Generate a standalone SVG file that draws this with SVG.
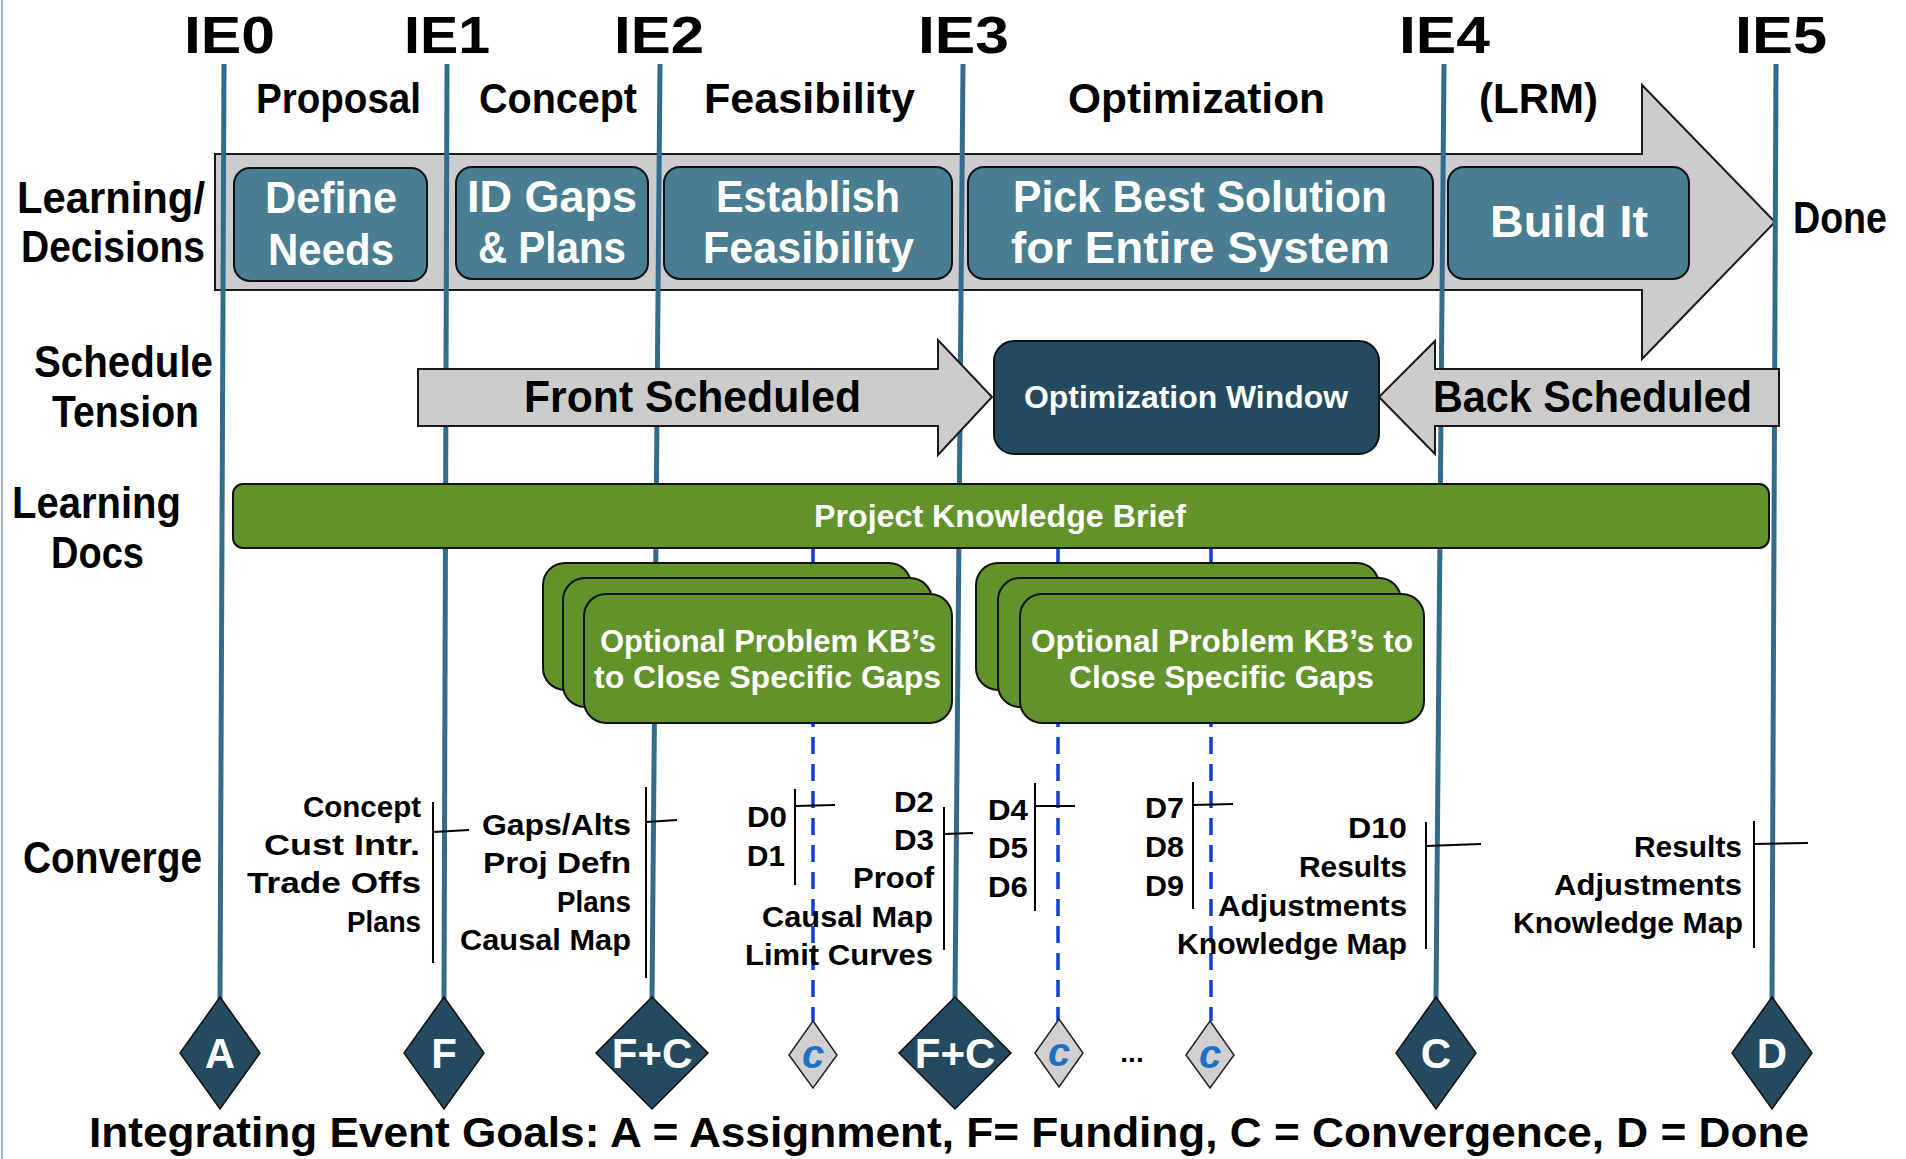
<svg xmlns="http://www.w3.org/2000/svg" width="1906" height="1159" viewBox="0 0 1906 1159">
  <style>
    .t { font-family: "Liberation Sans", "DejaVu Sans", sans-serif; font-weight: bold; }
    .blk { fill: #000; }
    .wht { fill: #fff; }
    .ie { font-size: 52px; }
    .phase { font-size: 43px; }
    .row { font-size: 45px; }
    .box { font-size: 44px; }
    .mid { font-size: 31px; }
    .kb { font-size: 32px; }
    .cv { font-size: 29px; }
    .dia { font-size: 42px; text-anchor: middle; }
    .sm { font-size: 40px; text-anchor: middle; fill: #1f6fc5; font-style: italic; }
    .cap { font-size: 42px; }
    .ieline { stroke: #336b8c; stroke-width: 5; fill: none; }
    .dash { stroke: #1040d8; stroke-width: 3.5; stroke-dasharray: 17 10; fill: none; }
    .teal { fill: #497d91; stroke: #111; stroke-width: 2; }
    .navy { fill: #234a5f; stroke: #111; stroke-width: 2; }
    .gray { fill: #cccccc; stroke: #1a1a1a; stroke-width: 2; }
    .green { fill: #62932a; stroke: #111; stroke-width: 2; }
    .brk { stroke: #000; stroke-width: 2; fill: none; }
    .bigd { fill: #234a5f; stroke: #111; stroke-width: 1.5; }
    .smd { fill: #d0d0d0; stroke: #222; stroke-width: 1.5; }
  </style>

  <rect x="0" y="0" width="1906" height="1159" fill="#fff"/>
  <line x1="2" y1="0" x2="2" y2="1159" stroke="#9db4cc" stroke-width="2"/>

  <!-- main phase arrow -->
  <g id="phase-arrow">
    <polygon class="gray" points="215,154 1642,154 1642,85 1775,222 1642,359 1642,290 215,290"/>
  </g>

  <!-- timeline connectors: integrating-event lines, convergence dashes, brackets -->
  <g id="connectors">
    <line class="ieline" x1="224" y1="64" x2="220" y2="1000"/>
    <line class="ieline" x1="447" y1="64" x2="444" y2="1000"/>
    <line class="ieline" x1="660" y1="64" x2="652" y2="1000"/>
    <line class="ieline" x1="963" y1="64" x2="955" y2="1000"/>
    <line class="ieline" x1="1444" y1="64" x2="1436" y2="1000"/>
    <line class="ieline" x1="1776" y1="64" x2="1772" y2="1000"/>

    <line class="dash" x1="813" y1="548" x2="813" y2="1021"/>
    <line class="dash" x1="1058" y1="548" x2="1058" y2="1021"/>
    <line class="dash" x1="1211" y1="548" x2="1211" y2="1021"/>

    <path class="brk" d="M433,802 V963 M433,832 L469,830"/>
    <path class="brk" d="M646,787 V978 M646,822 L677,820"/>
    <path class="brk" d="M795,789 V885 M795,806 L835,805"/>
    <path class="brk" d="M944,807 V950 M944,834 L973,833"/>
    <path class="brk" d="M1035,783 V911 M1035,806 L1075,806"/>
    <path class="brk" d="M1193,782 V909 M1193,805 L1233,804"/>
    <path class="brk" d="M1426,822 V949 M1426,846 L1481,844"/>
    <path class="brk" d="M1754,821 V948 M1754,844 L1808,843"/>
  </g>

  <!-- integrating event headings -->
  <g id="ie-labels" class="t blk ie">
    <text x="184" y="53" textLength="91" lengthAdjust="spacingAndGlyphs">IE0</text>
    <text x="404" y="53" textLength="86" lengthAdjust="spacingAndGlyphs">IE1</text>
    <text x="614" y="53" textLength="90" lengthAdjust="spacingAndGlyphs">IE2</text>
    <text x="918" y="53" textLength="91" lengthAdjust="spacingAndGlyphs">IE3</text>
    <text x="1399" y="53" textLength="91" lengthAdjust="spacingAndGlyphs">IE4</text>
    <text x="1735" y="53" textLength="92" lengthAdjust="spacingAndGlyphs">IE5</text>
  </g>

  <g id="phase-labels" class="t blk phase">
    <text x="256" y="113" textLength="165" lengthAdjust="spacingAndGlyphs">Proposal</text>
    <text x="479" y="113" textLength="158" lengthAdjust="spacingAndGlyphs">Concept</text>
    <text x="704" y="113" textLength="211" lengthAdjust="spacingAndGlyphs">Feasibility</text>
    <text x="1068" y="113" textLength="257" lengthAdjust="spacingAndGlyphs">Optimization</text>
    <text x="1479" y="113" textLength="119" lengthAdjust="spacingAndGlyphs">(LRM)</text>
  </g>

  <g id="row-labels" class="t blk row">
    <text x="17" y="213" textLength="188" lengthAdjust="spacingAndGlyphs">Learning/</text>
    <text x="21" y="262" textLength="184" lengthAdjust="spacingAndGlyphs">Decisions</text>
    <text x="34" y="377" textLength="179" lengthAdjust="spacingAndGlyphs">Schedule</text>
    <text x="52" y="427" textLength="147" lengthAdjust="spacingAndGlyphs">Tension</text>
    <text x="12" y="518" textLength="169" lengthAdjust="spacingAndGlyphs">Learning</text>
    <text x="51" y="568" textLength="93" lengthAdjust="spacingAndGlyphs">Docs</text>
    <text x="23" y="873" textLength="179" lengthAdjust="spacingAndGlyphs">Converge</text>
    <text x="1793" y="233" textLength="94" lengthAdjust="spacingAndGlyphs">Done</text>
  </g>

  <!-- learning / decision steps -->
  <g id="define-needs">
    <rect class="teal" x="234" y="168" width="193" height="113" rx="16"/>
    <text class="t wht box" x="265" y="213" textLength="132" lengthAdjust="spacingAndGlyphs">Define</text>
    <text class="t wht box" x="268" y="265" textLength="126" lengthAdjust="spacingAndGlyphs">Needs</text>
  </g>
  <g id="id-gaps">
    <rect class="teal" x="456" y="167" width="192" height="112" rx="16"/>
    <text class="t wht box" x="467" y="212" textLength="170" lengthAdjust="spacingAndGlyphs">ID Gaps</text>
    <text class="t wht box" x="478" y="263" textLength="148" lengthAdjust="spacingAndGlyphs">&amp; Plans</text>
  </g>
  <g id="establish-feasibility">
    <rect class="teal" x="664" y="167" width="288" height="112" rx="16"/>
    <text class="t wht box" x="716" y="212" textLength="184" lengthAdjust="spacingAndGlyphs">Establish</text>
    <text class="t wht box" x="703" y="263" textLength="211" lengthAdjust="spacingAndGlyphs">Feasibility</text>
  </g>
  <g id="pick-best">
    <rect class="teal" x="968" y="167" width="465" height="112" rx="16"/>
    <text class="t wht box" x="1013" y="212" textLength="374" lengthAdjust="spacingAndGlyphs">Pick Best Solution</text>
    <text class="t wht box" x="1011" y="263" textLength="379" lengthAdjust="spacingAndGlyphs">for Entire System</text>
  </g>
  <g id="build-it">
    <rect class="teal" x="1448" y="167" width="241" height="112" rx="16"/>
    <text class="t wht box" x="1490" y="237" textLength="158" lengthAdjust="spacingAndGlyphs">Build It</text>
  </g>

  <!-- schedule tension -->
  <g id="front-scheduled">
    <polygon class="gray" points="418,369 938,369 938,340 992,397 938,455 938,426 418,426"/>
    <text class="t blk box" x="524" y="412" textLength="337" lengthAdjust="spacingAndGlyphs">Front Scheduled</text>
  </g>
  <g id="optimization-window">
    <rect class="navy" x="994" y="341" width="385" height="113" rx="20"/>
    <text class="t wht mid" x="1024" y="408" textLength="324" lengthAdjust="spacingAndGlyphs">Optimization Window</text>
  </g>
  <g id="back-scheduled">
    <polygon class="gray" points="1779,369 1435,369 1435,341 1379,397 1435,454 1435,426 1779,426"/>
    <text class="t blk box" x="1433" y="412" textLength="319" lengthAdjust="spacingAndGlyphs">Back Scheduled</text>
  </g>

  <!-- learning documents -->
  <g id="project-kb">
    <rect class="green" x="233" y="484" width="1536" height="64" rx="10"/>
    <text class="t wht mid" x="814" y="527" textLength="372" lengthAdjust="spacingAndGlyphs">Project Knowledge Brief</text>
  </g>
  <g id="problem-kb-left">
    <rect class="green" x="543" y="563" width="368" height="127" rx="22"/>
    <rect class="green" x="563" y="578" width="369" height="129" rx="22"/>
    <rect class="green" x="584" y="594" width="368" height="129" rx="22"/>
    <text class="t wht kb" x="600" y="652" textLength="336" lengthAdjust="spacingAndGlyphs">Optional Problem KB’s</text>
    <text class="t wht kb" x="594" y="688" textLength="347" lengthAdjust="spacingAndGlyphs">to Close Specific Gaps</text>
  </g>
  <g id="problem-kb-right">
    <rect class="green" x="976" y="563" width="403" height="127" rx="22"/>
    <rect class="green" x="998" y="578" width="403" height="129" rx="22"/>
    <rect class="green" x="1020" y="594" width="404" height="129" rx="22"/>
    <text class="t wht kb" x="1031" y="652" textLength="382" lengthAdjust="spacingAndGlyphs">Optional Problem KB’s to</text>
    <text class="t wht kb" x="1069" y="688" textLength="305" lengthAdjust="spacingAndGlyphs">Close Specific Gaps</text>
  </g>

  <!-- convergence deliverables -->
  <g id="converge-ie1" class="t blk cv">
    <text x="303" y="817" textLength="118" lengthAdjust="spacingAndGlyphs">Concept</text>
    <text x="264" y="855" textLength="156" lengthAdjust="spacingAndGlyphs">Cust Intr.</text>
    <text x="247" y="893" textLength="174" lengthAdjust="spacingAndGlyphs">Trade Offs</text>
    <text x="347" y="932" textLength="74" lengthAdjust="spacingAndGlyphs">Plans</text>
  </g>
  <g id="converge-ie2" class="t blk cv">
    <text x="482" y="835" textLength="149" lengthAdjust="spacingAndGlyphs">Gaps/Alts</text>
    <text x="483" y="873" textLength="148" lengthAdjust="spacingAndGlyphs">Proj Defn</text>
    <text x="557" y="912" textLength="74" lengthAdjust="spacingAndGlyphs">Plans</text>
    <text x="460" y="950" textLength="171" lengthAdjust="spacingAndGlyphs">Causal Map</text>
  </g>
  <g id="converge-d0" class="t blk cv">
    <text x="747" y="827" textLength="40" lengthAdjust="spacingAndGlyphs">D0</text>
    <text x="747" y="866" textLength="38" lengthAdjust="spacingAndGlyphs">D1</text>
  </g>
  <g id="converge-ie3" class="t blk cv">
    <text x="894" y="812" textLength="40" lengthAdjust="spacingAndGlyphs">D2</text>
    <text x="894" y="850" textLength="40" lengthAdjust="spacingAndGlyphs">D3</text>
    <text x="853" y="888" textLength="81" lengthAdjust="spacingAndGlyphs">Proof</text>
    <text x="762" y="927" textLength="171" lengthAdjust="spacingAndGlyphs">Causal Map</text>
    <text x="745" y="965" textLength="188" lengthAdjust="spacingAndGlyphs">Limit Curves</text>
  </g>
  <g id="converge-d4" class="t blk cv">
    <text x="988" y="820" textLength="40" lengthAdjust="spacingAndGlyphs">D4</text>
    <text x="988" y="858" textLength="40" lengthAdjust="spacingAndGlyphs">D5</text>
    <text x="988" y="897" textLength="40" lengthAdjust="spacingAndGlyphs">D6</text>
  </g>
  <g id="converge-d7" class="t blk cv">
    <text x="1145" y="818" textLength="39" lengthAdjust="spacingAndGlyphs">D7</text>
    <text x="1145" y="857" textLength="39" lengthAdjust="spacingAndGlyphs">D8</text>
    <text x="1145" y="896" textLength="39" lengthAdjust="spacingAndGlyphs">D9</text>
  </g>
  <g id="converge-ie4" class="t blk cv">
    <text x="1348" y="838" textLength="59" lengthAdjust="spacingAndGlyphs">D10</text>
    <text x="1299" y="877" textLength="108" lengthAdjust="spacingAndGlyphs">Results</text>
    <text x="1218" y="916" textLength="189" lengthAdjust="spacingAndGlyphs">Adjustments</text>
    <text x="1177" y="954" textLength="230" lengthAdjust="spacingAndGlyphs">Knowledge Map</text>
  </g>
  <g id="converge-ie5" class="t blk cv">
    <text x="1634" y="857" textLength="108" lengthAdjust="spacingAndGlyphs">Results</text>
    <text x="1554" y="895" textLength="188" lengthAdjust="spacingAndGlyphs">Adjustments</text>
    <text x="1513" y="933" textLength="230" lengthAdjust="spacingAndGlyphs">Knowledge Map</text>
  </g>

  <!-- integrating event goal markers -->
  <g id="goal-a">
    <polygon class="bigd" points="220,997 260,1053 220,1109 180,1053"/>
    <text class="t wht dia" x="220" y="1068">A</text>
  </g>
  <g id="goal-f">
    <polygon class="bigd" points="444,997 484,1053 444,1109 404,1053"/>
    <text class="t wht dia" x="444" y="1068">F</text>
  </g>
  <g id="goal-fc1">
    <polygon class="bigd" points="652,997 708,1053 652,1109 596,1053"/>
    <text class="t wht dia" x="652" y="1068">F+C</text>
  </g>
  <g id="goal-c0">
    <polygon class="smd" points="813,1021 837,1055 813,1088 789,1055"/>
    <text class="t sm" x="813" y="1068">c</text>
  </g>
  <g id="goal-fc2">
    <polygon class="bigd" points="955,997 1011,1053 955,1109 899,1053"/>
    <text class="t wht dia" x="955" y="1068">F+C</text>
  </g>
  <g id="goal-c1">
    <polygon class="smd" points="1059,1019 1083,1053 1059,1087 1035,1053"/>
    <text class="t sm" x="1059" y="1066">c</text>
  </g>
  <text class="t blk" x="1132" y="1062" font-size="28" text-anchor="middle">...</text>
  <g id="goal-c2">
    <polygon class="smd" points="1210,1021 1234,1055 1210,1088 1186,1055"/>
    <text class="t sm" x="1210" y="1068">c</text>
  </g>
  <g id="goal-c">
    <polygon class="bigd" points="1436,997 1476,1053 1436,1109 1396,1053"/>
    <text class="t wht dia" x="1436" y="1068">C</text>
  </g>
  <g id="goal-d">
    <polygon class="bigd" points="1772,997 1812,1053 1772,1109 1732,1053"/>
    <text class="t wht dia" x="1772" y="1068">D</text>
  </g>

  <text id="legend" class="t blk cap" x="89" y="1147" textLength="1720" lengthAdjust="spacingAndGlyphs">Integrating Event Goals: A = Assignment, F= Funding, C = Convergence, D = Done</text>
</svg>
